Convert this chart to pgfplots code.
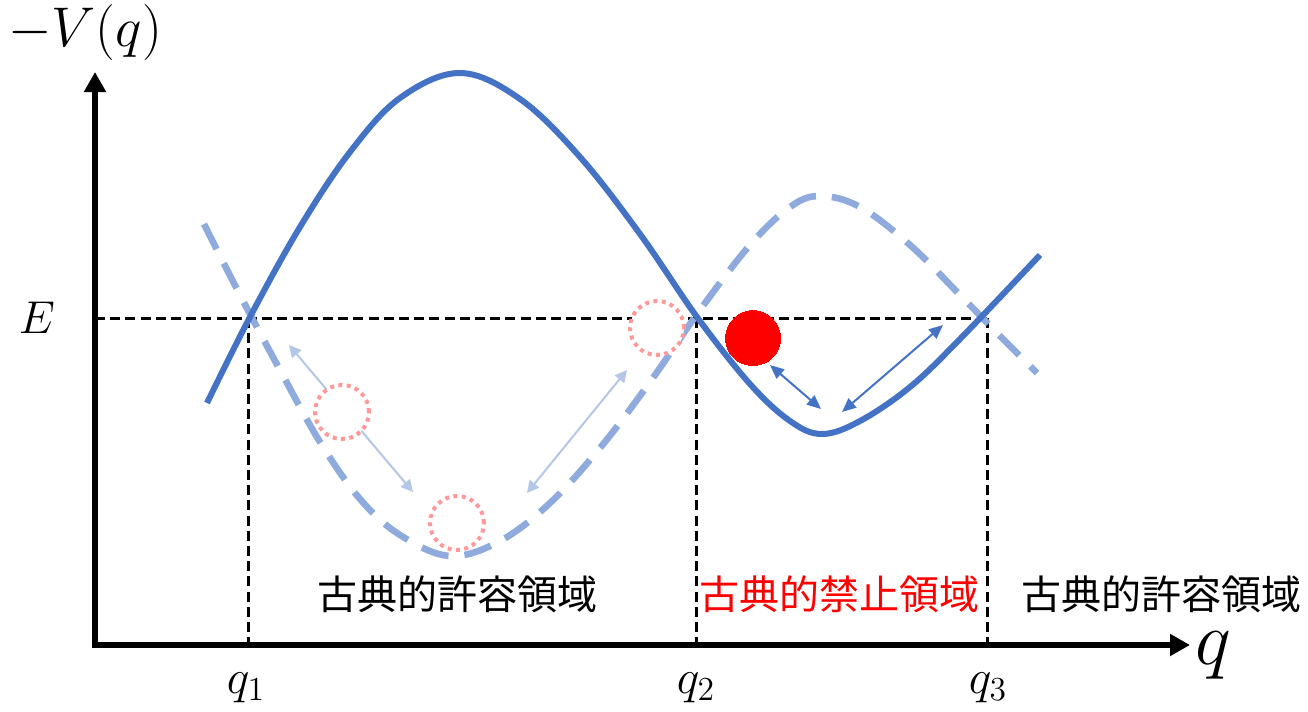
\RequirePackage{fix-cm}
\documentclass[border=0pt]{standalone}
\usepackage{pgfplots}
\pgfplotsset{compat=1.18}
\usepackage{fontspec}
\newfontfamily\cjk{Noto Sans CJK JP}
\usetikzlibrary{arrows.meta}
\definecolor{solidblue}{HTML}{4472C4}
\definecolor{lightblue}{HTML}{8FAADC}
\definecolor{arrowblue}{HTML}{B4C7E7}
\definecolor{lightred}{HTML}{FF9999}
\begin{document}
\begin{tikzpicture}
\begin{axis}[name=ax, scale only axis, width=654pt, height=356pt,
  xmin=0, xmax=1308, ymin=0, ymax=712, y dir=reverse, hide axis, clip=false]
% guide lines
\addplot[black, line width=1.5pt, dash pattern=on 5pt off 2.6pt] coordinates {(95,318) (987,318)};
\addplot[black, line width=1.5pt, dash pattern=on 5pt off 2.6pt] coordinates {(248,318) (248,645)};
\addplot[black, line width=1.5pt, dash pattern=on 5pt off 2.6pt] coordinates {(696,318) (696,645)};
\addplot[black, line width=1.5pt, dash pattern=on 5pt off 2.6pt] coordinates {(987,318) (987,645)};
% axes
\addplot[black, line width=3.2pt, line join=miter,
  arrows={Triangle[length=10pt,width=10.5pt]-Triangle[length=10pt,width=10.5pt]}]
  coordinates {(95,72) (95,645) (1190,645)};
% dashed (inverted) curve
\addplot[lightblue, line width=3.3pt, dash pattern=on 14pt off 8pt, smooth, tension=0.6] coordinates {
(204,224) (240,295) (280,370) (320,442) (360,499) (400,535) (450,556) (500,541)
(550,503) (600,448) (650,382) (700,310) (750,245) (790,207) (820,196) (860,207)
(910,245) (960,295) (1000,336) (1037,373)};
% solid curve
\addplot[solidblue, line width=3pt, smooth, tension=0.6] coordinates {
(207,403) (250,317) (300,227) (350,152) (400,98) (460,73) (520,99) (580,157)
(640,234) (697,317) (750,384) (790,421) (822,434) (860,421) (910,387) (960,339)
(1040,255)};
% light arrows
\addplot[arrowblue, line width=1pt,
  arrows={Triangle[length=6pt,width=6pt]-Triangle[length=6pt,width=6pt]}]
  coordinates {(289,345) (413,492)};
\addplot[arrowblue, line width=1pt,
  arrows={Triangle[length=6pt,width=6pt]-Triangle[length=6pt,width=6pt]}]
  coordinates {(527,493) (627,370)};
% dark arrows
\addplot[solidblue, line width=1pt,
  arrows={Triangle[length=7pt,width=6pt]-Triangle[length=7pt,width=6pt]}]
  coordinates {(770,365) (821,409)};
\addplot[solidblue, line width=1pt,
  arrows={Triangle[length=7pt,width=6pt]-Triangle[length=7pt,width=6pt]}]
  coordinates {(943,325) (842,412)};
% dotted circles
\addplot[only marks, mark=*, mark size=13.5pt,
  mark options={draw=lightred, fill=white, line width=2pt, dash pattern=on 2pt off 2.2pt}]
  coordinates {(342,412) (457,523) (657,328)};
% red ball
\addplot[only marks, red, mark=*, mark size=13.75pt, mark options={draw=red, fill=red, line width=0pt}]
  coordinates {(753,338)};
% labels
\node[inner sep=0] at (axis cs:85,33) {\fontsize{28}{34}\selectfont $-V(q)$};
\node[inner sep=0] at (axis cs:37,318) {\fontsize{23}{28}\selectfont $E$};
\node[inner sep=0] at (axis cs:1213,656) {\fontsize{38}{44}\selectfont $q$};
\node[inner sep=0] at (axis cs:246,688) {\fontsize{24}{29}\selectfont $q_1$};
\node[inner sep=0] at (axis cs:696,688) {\fontsize{24}{29}\selectfont $q_2$};
\node[inner sep=0] at (axis cs:988,688) {\fontsize{24}{29}\selectfont $q_3$};
\node[inner sep=0] at (axis cs:457,594) {\cjk\fontsize{20}{24}\selectfont 古典的許容領域};
\node[inner sep=0, text=red] at (axis cs:839,594) {\cjk\fontsize{20}{24}\selectfont 古典的禁止領域};
\node[inner sep=0] at (axis cs:1161,594) {\cjk\fontsize{20}{24}\selectfont 古典的許容領域};
\end{axis}
\pgfresetboundingbox
\path[use as bounding box] (ax.south west) rectangle (ax.north east);
\end{tikzpicture}
\end{document}
